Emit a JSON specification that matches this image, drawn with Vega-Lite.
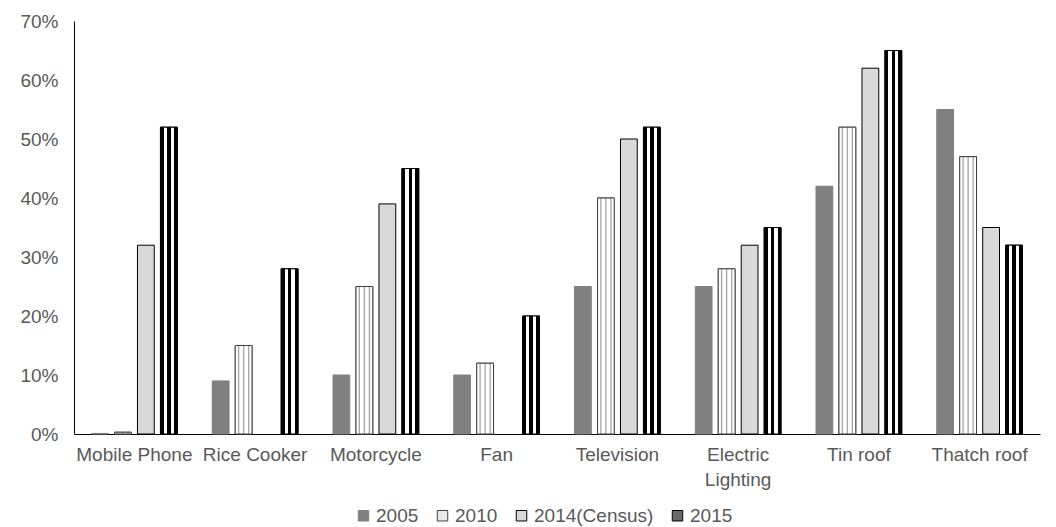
{
  "$schema": "https://vega.github.io/schema/vega-lite/v6.json",
  "width": 966,
  "height": 413,
  "autosize": {"type": "none"},
  "padding": {"left": 74, "top": 21, "right": 16, "bottom": 93},
  "background": "#ffffff",
  "config": {
    "view": {"stroke": null},
    "font": "Liberation Sans",
    "axis": {"labelFont": "Liberation Sans", "labelColor": "#595959", "grid": false, "ticks": false, "domainColor": "#000000", "domainWidth": 1},
    "legend": {"labelFont": "Liberation Sans", "labelColor": "#595959"}
  },
  "data": {
    "values": [
      {"category": "Mobile Phone", "year": "2005", "value": 0.001},
      {"category": "Mobile Phone", "year": "2010", "value": 0.003},
      {"category": "Mobile Phone", "year": "2014(Census)", "value": 0.32},
      {"category": "Mobile Phone", "year": "2015", "value": 0.52},
      {"category": "Rice Cooker", "year": "2005", "value": 0.09},
      {"category": "Rice Cooker", "year": "2010", "value": 0.15},
      {"category": "Rice Cooker", "year": "2015", "value": 0.28},
      {"category": "Motorcycle", "year": "2005", "value": 0.10},
      {"category": "Motorcycle", "year": "2010", "value": 0.25},
      {"category": "Motorcycle", "year": "2014(Census)", "value": 0.39},
      {"category": "Motorcycle", "year": "2015", "value": 0.45},
      {"category": "Fan", "year": "2005", "value": 0.10},
      {"category": "Fan", "year": "2010", "value": 0.12},
      {"category": "Fan", "year": "2015", "value": 0.20},
      {"category": "Television", "year": "2005", "value": 0.25},
      {"category": "Television", "year": "2010", "value": 0.40},
      {"category": "Television", "year": "2014(Census)", "value": 0.50},
      {"category": "Television", "year": "2015", "value": 0.52},
      {"category": "Electric Lighting", "year": "2005", "value": 0.25},
      {"category": "Electric Lighting", "year": "2010", "value": 0.28},
      {"category": "Electric Lighting", "year": "2014(Census)", "value": 0.32},
      {"category": "Electric Lighting", "year": "2015", "value": 0.35},
      {"category": "Tin roof", "year": "2005", "value": 0.42},
      {"category": "Tin roof", "year": "2010", "value": 0.52},
      {"category": "Tin roof", "year": "2014(Census)", "value": 0.62},
      {"category": "Tin roof", "year": "2015", "value": 0.65},
      {"category": "Thatch roof", "year": "2005", "value": 0.55},
      {"category": "Thatch roof", "year": "2010", "value": 0.47},
      {"category": "Thatch roof", "year": "2014(Census)", "value": 0.35},
      {"category": "Thatch roof", "year": "2015", "value": 0.32}
    ]
  },
  "encoding": {
    "x": {
      "field": "category",
      "type": "nominal",
      "sort": ["Mobile Phone", "Rice Cooker", "Motorcycle", "Fan", "Television", "Electric Lighting", "Tin roof", "Thatch roof"],
      "scale": {"paddingInner": 0.29, "paddingOuter": 0.145},
      "axis": {
        "title": null,
        "labelAngle": 0,
        "labelFontSize": 19,
        "labelPadding": 11,
        "labelLimit": 300,
        "labelLineHeight": 25,
        "labelBaseline": "top",
        "labelExpr": "datum.label == 'Electric Lighting' ? ['Electric', 'Lighting'] : datum.label"
      }
    },
    "xOffset": {
      "field": "year",
      "type": "nominal",
      "scale": {"domain": ["2005", "2010", "2014(Census)", "2015"], "paddingInner": 0.27, "paddingOuter": 0}
    },
    "y": {
      "field": "value",
      "type": "quantitative",
      "scale": {"domain": [0, 0.7], "nice": false},
      "axis": {
        "title": null,
        "format": ".0%",
        "values": [0, 0.1, 0.2, 0.3, 0.4, 0.5, 0.6, 0.7],
        "labelFontSize": 19,
        "labelPadding": 16
      }
    }
  },
  "layer": [
    {
      "mark": {"type": "bar", "strokeWidth": 1},
      "encoding": {
        "fill": {
          "field": "year",
          "type": "nominal",
          "scale": {"domain": ["2005", "2010", "2014(Census)", "2015"], "range": ["#808080", "#e8e8e8", "#d9d9d9", "#6a6a6a"]},
          "legend": {
            "title": null,
            "orient": "none",
            "direction": "horizontal",
            "legendX": 280,
            "legendY": 485,
            "symbolType": "square",
            "symbolSize": 110,
            "symbolStrokeWidth": 1,
            "labelFontSize": 19,
            "labelOffset": 3,
            "columnPadding": 14
          }
        },
        "stroke": {
          "field": "year",
          "type": "nominal",
          "scale": {"domain": ["2005", "2010", "2014(Census)", "2015"], "range": ["#808080", "#404040", "#000000", "#000000"]},
          "legend": {
            "title": null,
            "orient": "none",
            "direction": "horizontal",
            "legendX": 280,
            "legendY": 485,
            "symbolType": "square",
            "symbolSize": 110,
            "labelFontSize": 19,
            "labelOffset": 3,
            "columnPadding": 14
          }
        }
      }
    },
    {
      "transform": [{"filter": "datum.year == '2010'"}],
      "mark": {
        "type": "bar",
        "stroke": "#404040",
        "strokeWidth": 1,
        "fill": {
          "gradient": "linear",
          "x1": 0, "y1": 0, "x2": 1, "y2": 0,
          "stops": [
            {"offset": 0, "color": "#ffffff"},
            {"offset": 0.13, "color": "#ffffff"},
            {"offset": 0.2, "color": "#9a9a9a"},
            {"offset": 0.27, "color": "#ffffff"},
            {"offset": 0.43, "color": "#ffffff"},
            {"offset": 0.5, "color": "#9a9a9a"},
            {"offset": 0.57, "color": "#ffffff"},
            {"offset": 0.73, "color": "#ffffff"},
            {"offset": 0.8, "color": "#9a9a9a"},
            {"offset": 0.87, "color": "#ffffff"},
            {"offset": 1, "color": "#ffffff"}
          ]
        }
      }
    },
    {
      "transform": [{"filter": "datum.year == '2015'"}],
      "mark": {
        "type": "bar",
        "stroke": "#000000",
        "strokeWidth": 1,
        "fill": {
          "gradient": "linear",
          "x1": 0, "y1": 0, "x2": 1, "y2": 0,
          "stops": [
            {"offset": 0, "color": "#000000"},
            {"offset": 0.2, "color": "#000000"},
            {"offset": 0.2, "color": "#ffffff"},
            {"offset": 0.4, "color": "#ffffff"},
            {"offset": 0.4, "color": "#000000"},
            {"offset": 0.6, "color": "#000000"},
            {"offset": 0.6, "color": "#ffffff"},
            {"offset": 0.8, "color": "#ffffff"},
            {"offset": 0.8, "color": "#000000"},
            {"offset": 1, "color": "#000000"}
          ]
        }
      }
    }
  ]
}
